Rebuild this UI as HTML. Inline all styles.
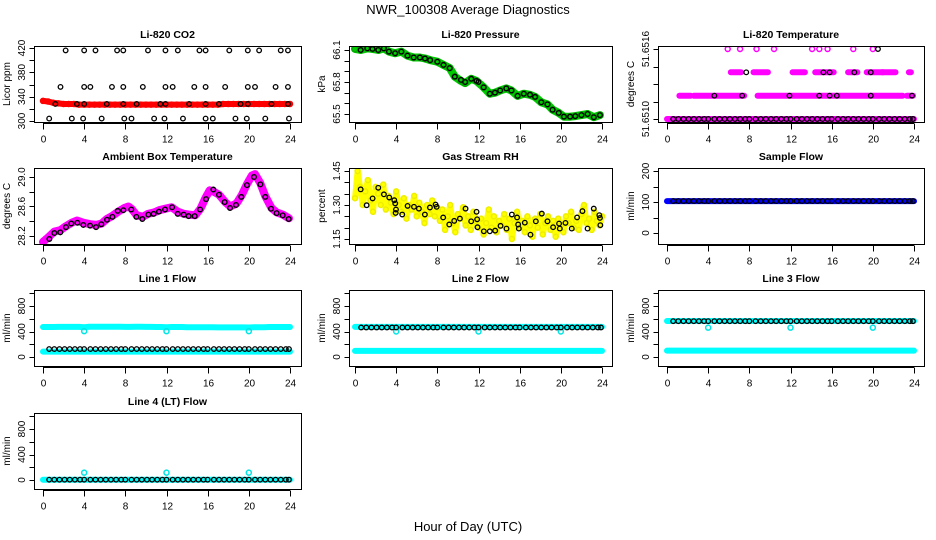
<!DOCTYPE html>
<html><head><meta charset="utf-8">
<style>
html,body{margin:0;padding:0;background:#fff;}
svg{display:block;font-family:"Liberation Sans",Arial,sans-serif;}
</style></head>
<body>
<svg id="chart" width="936" height="540" viewBox="0 0 936 540" xmlns="http://www.w3.org/2000/svg">
<rect width="936" height="540" fill="#fff"/>
<text x="468" y="14" text-anchor="middle" font-size="13" fill="#000">NWR_100308  Average Diagnostics</text>
<text x="468" y="531" text-anchor="middle" font-size="13" fill="#000">Hour of Day (UTC)</text>
<g id="panels"></g>
</svg>
<script>
// ---------- data ----------
var xTicks = [0,4,8,12,16,20,24];
var xTickLabels = ["0","4","8","12","16","20","24"];
var halfHours = [0,0.5,1,1.5,2,2.5,3,3.5,4,4.5,5,5.5,6,6.5,7,7.5,8,8.5,9,9.5,10,10.5,11,11.5,12,12.5,13,13.5,14,14.5,15,15.5,16,16.5,17,17.5,18,18.5,19,19.5,20,20.5,21,21.5,22,22.5,23,23.5,24];
var blackHours = [0.6,1.1,1.6,2.1,2.6,3.1,3.6,4.0,4.6,5.1,5.6,6.1,6.6,7.1,7.6,8.0,8.6,9.1,9.6,10.1,10.6,11.1,11.6,12.0,12.6,13.1,13.6,14.1,14.6,15.1,15.6,16.0,16.6,17.1,17.6,18.1,18.6,19.1,19.6,20.0,20.6,21.1,21.6,22.1,22.6,23.1,23.6,23.9];

// CO2
var co2Red = [333,332,330,329,328,328,328,327,327,327,327,327,327,327,327,327,327,327,327,327,327,327,327,327,327,327,327,327,327,327,327,327,327,327,327,328,328,328,328,328,328,328,328,328,328,328,328,328,328];
var co2TimesA = [2.2,4.0,5.1,7.2,7.8,10.2,11.9,13.1,15.2,15.8,18.1,19.9,21.0,23.1,23.8];
var co2ValsA = [416,416,416,416,416,416,416,416,416,416,416,416,416,416,416];
var co2TimesB = [1.7,4.0,4.6,6.7,7.8,9.7,11.9,12.6,14.7,15.8,17.7,19.9,20.6,22.6,23.8];
var co2ValsB = [356,356,356,356,356,356,356,356,356,356,356,356,356,356,356];
var co2TimesC = [1.2,3.3,4.0,6.2,7.8,9.1,11.4,11.9,14.2,15.8,17.1,19.2,19.9,22.2,23.8];
var co2ValsC = [328,328,328,328,328,328,328,328,328,328,328,328,328,328,328];
var co2TimesD = [0.6,2.8,3.9,5.7,7.9,8.6,10.8,11.8,13.6,15.8,16.5,18.7,19.8,21.6,23.9];
var co2ValsD = [304,304,304,304,304,304,304,304,304,304,304,304,304,304,304];

// Pressure
var presTimes = [0.55,1.2,1.7,2.26,2.8,3.3,3.9,4.5,5.1,5.7,6.3,6.8,7.3,8.0,8.6,9.2,9.7,10.3,10.7,11.3,11.8,12.0,12.5,13.1,13.6,14.1,14.7,15.2,15.8,16.4,17.0,17.5,18.1,18.7,19.2,19.8,20.3,20.9,21.4,22.0,22.6,23.2,23.8];
var presVals = [66.10,66.115,66.11,66.10,66.115,66.085,66.07,66.085,66.047,66.03,66.03,66.02,66.005,65.99,65.96,65.93,65.85,65.82,65.80,65.83,65.81,65.80,65.75,65.69,65.70,65.72,65.74,65.72,65.67,65.69,65.68,65.66,65.61,65.59,65.54,65.51,65.475,65.475,65.48,65.49,65.50,65.47,65.49];
var presGreenTimes = [0,0.55,1.2,1.7,2.26,2.8,3.3,3.9,4.5,5.1,5.7,6.3,6.8,7.3,8.0,8.6,9.2,9.7,10.3,10.7,11.3,11.8,12.5,13.1,13.6,14.1,14.7,15.2,15.8,16.4,17.0,17.5,18.1,18.7,19.2,19.8,20.3,20.9,21.4,22.0,22.6,23.2,23.8];
var presGreenVals = [66.11,66.10,66.115,66.11,66.10,66.115,66.085,66.07,66.085,66.047,66.03,66.03,66.02,66.005,65.99,65.96,65.93,65.85,65.81,65.79,65.83,65.81,65.75,65.69,65.70,65.72,65.74,65.72,65.67,65.69,65.68,65.66,65.61,65.59,65.54,65.51,65.475,65.475,65.48,65.49,65.50,65.47,65.49];

// Li-820 temperature (levels)
var tLevels = [51.6510,51.6512,51.6514,51.6516];
var tPinkSegStart = [[0],[1.2,2.6,8.8,23.3],[6.2,8.4,12.2,14.4,17.6,19.4,20.9,23.5],[]];
var tPinkSegEnd = [[24],[2.3,7.5,22.9,23.9],[7.2,9.8,13.4,16.2,18.5,21.0,22.2,23.7],[]];
var tPinkPts3 = [5.9,7.1,8.7,10.4,14.1,14.8,15.6,18.1,20.0];
var tBlack1 = [4.6,7.3,11.9,14.8,15.8,16.5,19.8,23.8];
var tBlack2 = [7.7,15.2,15.8,18.2,19.8];
var tBlack3 = [20.5];

// Ambient box temperature
var ambTimes = [0.62,1.1,1.68,2.23,2.75,3.34,3.92,4.57,5.15,5.67,6.22,6.74,7.26,7.81,8.58,9.07,9.65,10.24,10.75,11.27,11.86,12.54,13.09,13.67,14.15,14.74,15.26,15.84,16.55,17.1,17.65,18.17,18.75,19.27,19.82,20.5,21.12,21.6,22.16,22.7,23.29,23.87];
var ambVals = [28.16,28.24,28.25,28.32,28.37,28.38,28.35,28.34,28.32,28.36,28.42,28.46,28.54,28.55,28.56,28.46,28.43,28.49,28.50,28.53,28.56,28.59,28.50,28.49,28.47,28.47,28.56,28.70,28.83,28.76,28.66,28.58,28.62,28.73,28.89,29.00,28.90,28.73,28.57,28.51,28.48,28.43];
var ambPinkTimes = [0,0.5,1.1,1.7,2.2,2.8,3.3,3.9,4.6,5.2,5.7,6.2,6.7,7.3,7.9,8.3,8.6,9.1,9.7,10.2,10.8,11.3,11.9,12.5,13.1,13.7,14.2,14.8,15.3,15.8,16.2,16.6,17.1,17.7,18.2,18.8,19.3,19.8,20.3,20.6,21.1,21.6,22.2,22.7,23.3,23.9];
var ambPinkVals = [28.12,28.18,28.26,28.28,28.33,28.38,28.41,28.38,28.36,28.35,28.37,28.43,28.47,28.53,28.58,28.60,28.57,28.48,28.46,28.50,28.52,28.55,28.57,28.59,28.53,28.50,28.49,28.48,28.57,28.72,28.82,28.80,28.76,28.66,28.60,28.64,28.75,28.90,29.02,29.04,28.92,28.74,28.58,28.52,28.49,28.44];

// Gas stream RH
var rhTimes = [0.55,1.13,1.71,2.26,2.81,3.33,3.82,3.91,3.98,3.95,4.59,5.11,5.73,6.21,6.79,7.28,7.83,7.93,8.57,9.16,9.64,10.19,10.74,11.29,11.81,11.87,11.9,12.52,13.1,13.62,14.14,14.72,15.24,15.75,15.85,15.92,16.5,17.05,17.57,18.15,18.7,19.25,19.83,19.9,20.45,21.06,21.58,22.1,22.6,23.2,23.74,23.8,23.84];
var rhVals = [1.369,1.299,1.329,1.376,1.347,1.333,1.321,1.307,1.280,1.265,1.258,1.296,1.292,1.284,1.258,1.289,1.302,1.292,1.245,1.214,1.230,1.240,1.284,1.228,1.270,1.237,1.202,1.184,1.184,1.187,1.208,1.196,1.258,1.245,1.214,1.196,1.222,1.169,1.228,1.262,1.228,1.202,1.218,1.196,1.221,1.196,1.245,1.273,1.196,1.284,1.255,1.243,1.211];
var rhYellow = [1.33,1.45,1.38,1.30,1.36,1.41,1.32,1.27,1.38,1.35,1.30,1.39,1.28,1.34,1.31,1.26,1.36,
 1.30,1.27,1.33,1.24,1.30,1.28,1.34,1.25,1.31,1.27,1.22,1.30,1.26,1.32,1.25,1.29,
 1.23,1.28,1.19,1.25,1.30,1.22,1.18,1.26,1.24,1.29,1.21,1.25,1.19,1.27,1.23,1.20,
 1.24,1.17,1.22,1.28,1.20,1.25,1.18,1.23,1.21,1.26,1.19,1.24,1.15,1.22,1.27,1.20,
 1.23,1.18,1.25,1.21,1.16,1.24,1.20,1.26,1.17,1.22,1.25,1.19,1.23,1.16,1.24,1.21,
 1.18,1.25,1.22,1.27,1.20,1.23,1.19,1.26,1.30,1.22,1.24,1.19,1.27,1.23,1.21,1.25];
var rhYellowTimes = [];
for (var q=0;q<rhYellow.length;q++) rhYellowTimes.push(q*0.25);

// Flows
var sampleBlue = [103,103,103,103,103,103,103,103,103,103,103,103,103,103,103,103,103,103,103,103,103,103,103,103,103,103,103,103,103,103,103,103,103,103,103,103,103,103,103,103,103,103,103,103,103,103,103,103,103];
var sampleBlack = [103,103,103,103,103,103,103,103,103,103,103,103,103,103,103,103,103,103,103,103,103,103,103,103,103,103,103,103,103,103,103,103,103,103,103,103,103,103,103,103,103,103,103,103,103,103,103,103];
var line1Upper = [470,470,470,472,472,472,472,472,468,474,474,474,474,476,476,474,472,472,474,474,472,472,470,470,466,470,470,470,468,468,466,466,466,466,465,465,464,464,464,464,462,466,468,468,470,470,470,470,470];
var line1Lower = [85,85,85,85,85,85,85,85,85,85,85,85,85,85,85,85,85,85,85,85,85,85,85,85,85,85,85,85,85,85,85,85,85,85,85,85,85,85,85,85,85,85,85,85,85,85,85,85,85];
var line1Black = [125,125,125,125,125,125,125,125,125,125,125,125,125,125,125,125,125,125,125,125,125,125,125,125,125,125,125,125,125,125,125,125,125,125,125,125,125,125,125,125,125,125,125,125,125,125,125,125];
var line2Upper = [472,472,472,472,472,472,472,472,472,472,472,472,472,472,472,472,472,472,472,472,472,472,472,472,472,472,472,472,472,472,472,472,472,472,472,472,472,472,472,472,472,472,472,472,472,472,472,472,472];
var line2Lower = [95,95,95,95,95,95,95,95,95,95,95,95,95,95,95,95,95,95,95,95,95,95,95,95,95,95,95,95,95,95,95,95,95,95,95,95,95,95,95,95,95,95,95,95,95,95,95,95,95];
var line2Black = [463,463,463,463,463,463,463,463,463,463,463,463,463,463,463,463,463,463,463,463,463,463,463,463,463,463,463,463,463,463,463,463,463,463,463,463,463,463,463,463,463,463,463,463,463,463,463,463];
var line3Upper = [565,565,565,565,565,565,565,565,565,565,565,565,565,565,565,565,565,565,565,565,565,565,565,565,565,565,565,565,565,565,565,565,565,565,565,565,565,565,565,565,565,565,565,565,565,565,565,565,565];
var line3Lower = [100,100,100,100,100,100,100,100,100,100,100,100,100,100,100,100,100,100,100,100,100,100,100,100,100,100,100,100,100,100,100,100,100,100,100,100,100,100,100,100,100,100,100,100,100,100,100,100,100];
var line3Black = [562,562,562,562,562,562,562,562,562,562,562,562,562,562,562,562,562,562,562,562,562,562,562,562,562,562,562,562,562,562,562,562,562,562,562,562,562,562,562,562,562,562,562,562,562,562,562,562];
var line4Cyan = [5,5,5,5,5,5,5,5,5,5,5,5,5,5,5,5,5,5,5,5,5,5,5,5,5,5,5,5,5,5,5,5,5,5,5,5,5,5,5,5,5,5,5,5,5,5,5,5,5];
var line4Black = [5,5,5,5,5,5,5,5,5,5,5,5,5,5,5,5,5,5,5,5,5,5,5,5,5,5,5,5,5,5,5,5,5,5,5,5,5,5,5,5,5,5,5,5,5,5,5,5];
var dipTimes = [4,12,20];
var line1Dips = [405,405,405];
var line2Dips = [400,400,400];
var line3Dips = [460,460,460];
var line4Spikes = [115,115,115];

// ---------- drawing ----------
var NS = "http://www.w3.org/2000/svg";
var root = document.getElementById("panels");
function mk(tag, attrs, parent){ var e=document.createElementNS(NS,tag); for(var k in attrs) e.setAttribute(k,attrs[k]); (parent||root).appendChild(e); return e; }

var colBox = [[34,301],[349,612],[658,924]];
var colX = [[43,290],[355,602],[667,914]];
var rowTop = [46,168,290,413];
var BOXH = 76;

function makePanel(name, title, ytitle, col, row, yv1, yp1, yv2, yp2, yTickVals, yLabelVals, yLabelText){
  var top=rowTop[row], bx=colBox[col];
  var g = mk("g",{});
  
  
  var p = {g:g, top:top,
    x:function(h){return colX[col][0]+(colX[col][1]-colX[col][0])*h/24;},
    y:function(v){return top+yp1+(v-yv1)*(yp2-yp1)/(yv2-yv1);} };
  var t = mk("text",{x:(bx[0]+bx[1])/2,y:top-8,"text-anchor":"middle","font-size":"10.5","font-weight":"bold"},g);
  t.textContent=title;
  
  
  var box = mk("rect",{x:bx[0]+0.5,y:top+0.5,width:bx[1]-bx[0],height:BOXH,fill:"none",stroke:"#000","stroke-width":"1"},g);
  
  
  var xa = mk("g",{},g);
  
  
  var yb = top+BOXH+0.5;
  mk("line",{x1:p.x(xTicks[0]),x2:p.x(xTicks[xTicks.length-1]),y1:yb+1,y2:yb+1,stroke:"#000"},xa);
  for (var i=0;i<xTicks.length;i++){
    var xx=Math.round(p.x(xTicks[i]))+0.5;
    mk("line",{x1:xx,x2:xx,y1:yb+1,y2:yb+7,stroke:"#000"},xa);
    var lt=mk("text",{x:xx,y:yb+20,"text-anchor":"middle","font-size":"10"},xa);
    lt.textContent=xTickLabels[i];
    
    
  }
  var ya = mk("g",{},g);
  
  
  var xl = bx[0]+0.5;
  mk("line",{x1:xl,x2:xl,y1:p.y(yTickVals[0]),y2:p.y(yTickVals[yTickVals.length-1]),stroke:"#000"},ya);
  for (var j=0;j<yTickVals.length;j++){
    var yy=Math.round(p.y(yTickVals[j]))+0.5;
    mk("line",{x1:xl-5,x2:xl,y1:yy,y2:yy,stroke:"#000"},ya);
  }
  for (var k=0;k<yLabelVals.length;k++){
    var ly=p.y(yLabelVals[k]), lx=bx[0]-9;
    var yt=mk("text",{x:lx,y:ly,"text-anchor":"middle","font-size":"10",transform:"rotate(-90 "+lx+" "+ly+")"},ya);
    yt.textContent=yLabelText[k];
    
    
  }
  var tx=bx[0]-24, ty=top+BOXH/2;
  var ytl=mk("text",{x:tx,y:ty,"text-anchor":"middle","font-size":"10",transform:"rotate(-90 "+tx+" "+ty+")"},g);
  ytl.textContent=ytitle;
  
  
  var cl = mk("clipPath",{id:"clip-"+name},g);
  mk("rect",{x:bx[0]+1,y:top+1,width:bx[1]-bx[0]-1,height:BOXH-1},cl);
  p.plot = mk("g",{"clip-path":"url(#clip-"+name+")"},g);
  return p;
}
function pts(p, xs, ys, color, r, sw, label){
  var g=mk("g",{},p.plot);
  
  
  for (var i=0;i<xs.length;i++){
    var c=mk("circle",{cx:p.x(xs[i]),cy:p.y(ys[i]),r:r,fill:"none",stroke:color,"stroke-width":sw},g);
    
    
  }
}
function band(p, xs, ys, color, w, label){
  var d="";
  for (var i=0;i<xs.length;i++) d+=(i?"L":"M")+p.x(xs[i]).toFixed(1)+","+p.y(ys[i]).toFixed(1);
  var e=mk("path",{d:d,fill:"none",stroke:color,"stroke-width":w,"stroke-linejoin":"round","stroke-linecap":"round"},p.plot);
  
  
}
function levelPts(arr, level){ var o=[]; for(var i=0;i<arr.length;i++) o.push(level); return o; }
var blk="#000";

var p1 = makePanel("co2-panel","Li-820 CO2","Licor ppm",0,0,420,2,300,75,[300,320,340,360,380,400,420],[300,340,380,420],["300","340","380","420"]);
band(p1, halfHours, co2Red, "#ff0000", 6, "co2-red-series");
pts(p1, halfHours, co2Red, "#ff0000", 2.5, 1.5, "co2-red");
pts(p1, co2TimesA, co2ValsA, blk, 2.3, 1.3, "co2-black-a");
pts(p1, co2TimesB, co2ValsB, blk, 2.3, 1.3, "co2-black-b");
pts(p1, co2TimesC, co2ValsC, blk, 2.3, 1.3, "co2-black-c");
pts(p1, co2TimesD, co2ValsD, blk, 2.3, 1.3, "co2-black-d");

var p2 = makePanel("pressure-panel","Li-820 Pressure","kPa",1,0,66.1,4,65.5,68,[65.5,65.6,65.7,65.8,65.9,66.0,66.1],[65.5,65.8,66.1],["65.5","65.8","66.1"]);
band(p2, presGreenTimes, presGreenVals, "#00cc00", 8, "pressure-green-series");
pts(p2, presGreenTimes, presGreenVals, "#00aa00", 3, 1.5, "pressure-green");
pts(p2, presTimes, presVals, blk, 2.3, 1.4, "pressure-black");

var p3 = makePanel("li820-temp-panel","Li-820 Temperature","degrees C",2,0,51.6516,3,51.6510,73,[51.6510,51.65115,51.6513,51.65145,51.6516],[51.6510,51.6516],["51.6510","51.6516"]);
for (var L=0; L<tLevels.length; L++){
  for (var s=0;s<tPinkSegStart[L].length;s++){
    band(p3,[tPinkSegStart[L][s],tPinkSegEnd[L][s]],[tLevels[L],tLevels[L]],"#ff00ff",6,"temp-pink-segment");
  }
}
pts(p3, tPinkPts3, levelPts(tPinkPts3,tLevels[3]), "#ff00ff", 2.5, 1.5, "temp-pink-top");
pts(p3, blackHours, levelPts(blackHours,tLevels[0]), blk, 2.3, 1.3, "temp-black-0");
pts(p3, tBlack1, levelPts(tBlack1,tLevels[1]), blk, 2.3, 1.3, "temp-black-1");
pts(p3, tBlack2, levelPts(tBlack2,tLevels[2]), blk, 2.3, 1.3, "temp-black-2");
pts(p3, tBlack3, levelPts(tBlack3,tLevels[3]), blk, 2.3, 1.3, "temp-black-3");

var p4 = makePanel("ambient-temp-panel","Ambient Box Temperature","degrees C",0,1,29.0,9,28.2,68,[28.2,28.4,28.6,28.8,29.0],[28.2,28.6,29.0],["28.2","28.6","29.0"]);
band(p4, ambPinkTimes, ambPinkVals, "#ff00ff", 8, "ambient-pink-series");
pts(p4, ambTimes, ambVals, blk, 2.3, 1.4, "ambient-black");

var p5 = makePanel("rh-panel","Gas Stream RH","percent",1,1,1.45,3,1.15,71,[1.15,1.20,1.25,1.30,1.35,1.40,1.45],[1.15,1.30,1.45],["1.15","1.30","1.45"]);
band(p5, rhYellowTimes, rhYellow, "#ffff00", 6, "rh-yellow-band");
pts(p5, rhYellowTimes, rhYellow, "#eeee00", 2.5, 1.5, "rh-yellow");
pts(p5, rhTimes, rhVals, blk, 2.3, 1.3, "rh-black");

var p6 = makePanel("sample-flow-panel","Sample Flow","ml/min",2,1,200,3,0,65,[0,50,100,150,200],[0,100,200],["0","100","200"]);
band(p6, halfHours, sampleBlue, "#0000ff", 6, "sample-blue-series");
pts(p6, blackHours, sampleBlack, blk, 2.3, 1.3, "sample-black");

var flowTicks=[0,200,400,600,800,1000], flowLab=[0,400,800], flowLabT=["0","400","800"];
var p7 = makePanel("line1-flow-panel","Line 1 Flow","ml/min",0,2,800,16,0,67,flowTicks,flowLab,flowLabT);
band(p7, halfHours, line1Upper, "#00ffff", 6, "line1-cyan-upper");
band(p7, halfHours, line1Lower, "#00ffff", 6, "line1-cyan-lower");
pts(p7, dipTimes, line1Dips, "#00e5e5", 2.5, 1.5, "line1-cyan-dips");
pts(p7, blackHours, line1Black, blk, 2.3, 1.3, "line1-black");
var p8 = makePanel("line2-flow-panel","Line 2 Flow","ml/min",1,2,800,16,0,67,flowTicks,flowLab,flowLabT);
band(p8, halfHours, line2Upper, "#00ffff", 6, "line2-cyan-upper");
band(p8, halfHours, line2Lower, "#00ffff", 6, "line2-cyan-lower");
pts(p8, dipTimes, line2Dips, "#00e5e5", 2.5, 1.5, "line2-cyan-dips");
pts(p8, blackHours, line2Black, blk, 2.3, 1.3, "line2-black");
var p9 = makePanel("line3-flow-panel","Line 3 Flow","ml/min",2,2,800,16,0,67,flowTicks,flowLab,flowLabT);
band(p9, halfHours, line3Upper, "#00ffff", 6, "line3-cyan-upper");
band(p9, halfHours, line3Lower, "#00ffff", 6, "line3-cyan-lower");
pts(p9, dipTimes, line3Dips, "#00e5e5", 2.5, 1.5, "line3-cyan-dips");
pts(p9, blackHours, line3Black, blk, 2.3, 1.3, "line3-black");
var p10 = makePanel("line4-flow-panel","Line 4 (LT) Flow","ml/min",0,3,800,16,0,67,flowTicks,flowLab,flowLabT);
band(p10, halfHours, line4Cyan, "#00ffff", 6, "line4-cyan");
pts(p10, dipTimes, line4Spikes, "#00e5e5", 2.5, 1.5, "line4-cyan-spikes");
pts(p10, blackHours, line4Black, blk, 2.3, 1.3, "line4-black");
</script>
</body></html>
